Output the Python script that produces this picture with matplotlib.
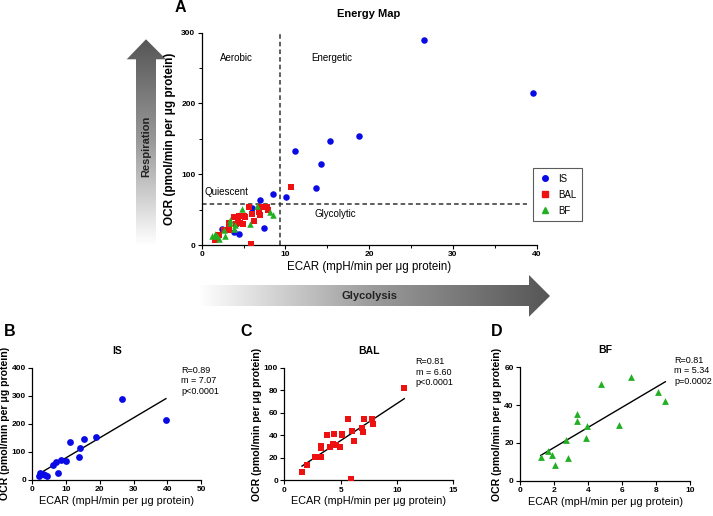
import numpy as np
import matplotlib
matplotlib.use("Agg")
import matplotlib.pyplot as plt
from matplotlib.colors import LinearSegmentedColormap
from matplotlib.patches import Polygon
from matplotlib.lines import Line2D
from matplotlib.ticker import MultipleLocator

plt.rcParams['font.family'] = ['Liberation Sans', 'DejaVu Sans']

# ---- data ----
is_ecar = [2.0, 2.4, 3.2, 3.9, 4.5, 6.0, 7.0, 7.5, 8.5, 10.1, 11.1, 13.7, 14.2, 15.3, 18.8, 26.6, 39.6]
is_ocr = [14, 23, 22, 18, 15, 52, 63, 24, 72, 68, 133, 80, 115, 147, 154, 289, 215]

bal_ecar = [1.57, 2.04, 2.72, 3.0, 3.3, 3.3, 3.3, 3.8, 4.05, 4.3, 4.44, 4.6, 4.9, 5.1, 5.15,
            5.68, 6.0, 6.2, 5.9, 6.9, 7.05, 7.0, 7.8, 7.9, 10.65]
bal_ocr = [7.4, 13.6, 20.7, 20.7, 20.7, 28.5, 30.5, 40, 30, 32, 41, 31, 29.5, 41.4, 40,
           54.4, 44, 34.5, 1.2, 46.7, 54.4, 43, 54.4, 50, 82]

bf_ecar = [1.22, 1.63, 1.88, 2.06, 2.7, 2.8, 3.35, 3.37, 3.92, 3.88, 4.78, 5.82, 6.55, 8.14, 8.55]
bf_ocr = [12.5, 15.7, 13.4, 8.5, 21.3, 12.2, 31.7, 35.1, 28.9, 22.8, 51, 29.3, 54.7, 46.9, 42]

stats_is = "R=0.89\nm = 7.07\np<0.0001"
stats_bal = "R=0.81\nm = 6.60\np<0.0001"
stats_bf = "R=0.81\nm = 5.34\np=0.0002"

ecar_cut = 9.3
ocr_cut = 58

BLUE = '#0a0ae6'
RED = '#ee1111'
GREEN = '#22b022'

W, H = 713, 516
fig = plt.figure(figsize=(W / 100, H / 100), dpi=100)


def px_axes(l, t, r, b, **kw):
    a = fig.add_axes([l / W, 1 - b / H, (r - l) / W, (b - t) / H], **kw)
    a.patch.set_alpha(0)
    return a


def px_text(x, y, s, **kw):
    return fig.text(x / W, 1 - y / H, s, **kw)


def style(ax, fs=6):
    for s in ['top', 'right']:
        ax.spines[s].set_visible(False)
    for s in ['left', 'bottom']:
        ax.spines[s].set_linewidth(0.9)
    ax.tick_params(which='major', direction='out', length=3, width=0.8, labelsize=fs, pad=1.5)
    ax.tick_params(which='minor', direction='out', length=2, width=0.7)
    for lab in ax.get_xticklabels() + ax.get_yticklabels():
        lab.set_fontweight('bold')


ylab = "OCR (pmol/min per μg protein)"
xlab = "ECAR (mpH/min per μg protein)"

# ---- background layer for the gradient arrows ----
bg = fig.add_axes([0, 0, 1, 1], zorder=-1)
bg.axis('off')
grey = LinearSegmentedColormap.from_list('g', ['#555555', '#9a9a9a', '#ffffff'])

grad = np.linspace(0, 1, 256).reshape(-1, 1)
im = bg.imshow(grad, extent=(125, 168, 245, 38), cmap=grey, aspect='auto')
arrow_v = Polygon([(136, 245), (136, 59.3), (126.7, 59.3), (146, 39.3), (166, 59.3),
                   (156, 59.3), (156, 245)], closed=True, transform=bg.transData,
                  facecolor='none', edgecolor='none')
bg.add_patch(arrow_v)
im.set_clip_path(arrow_v)

im2 = bg.imshow(grad.T[:, ::-1], extent=(198, 552, 318, 274), cmap=grey, aspect='auto')
arrow_h = Polygon([(200, 285), (529, 285), (529, 275), (550, 296), (529, 316.7),
                   (529, 306), (200, 306)], closed=True, transform=bg.transData,
                  facecolor='none', edgecolor='none')
bg.add_patch(arrow_h)
im2.set_clip_path(arrow_h)
bg.set_xlim(0, W)
bg.set_ylim(H, 0)

px_text(146.5, 146, "Respiration", rotation=90, ha='center', va='center',
        fontsize=8, fontweight='bold', color='#222222')
px_text(369, 296, "Glycolysis", ha='center', va='center',
        fontsize=8, fontweight='bold', color='#222222')
for letter, x, y in [("A", 180, 7), ("B", 10, 332), ("C", 246.5, 332), ("D", 497, 332)]:
    px_text(x, y, letter, ha='center', va='center', fontsize=11.5, fontweight='bold')

# ---- A: energy map ----
ax = px_axes(201.7, 32.7, 536.5, 245)
ax.axvline(ecar_cut, ymin=0, ymax=1, color='#333333', lw=1.1, ls=(0, (3, 2)))
ax.plot([0, 38.9], [ocr_cut, ocr_cut], color='#333333', lw=1.1, ls=(0, (3, 2)))
ax.scatter(is_ecar, is_ocr, s=22, marker='o', color=BLUE, zorder=3, linewidths=0)
ax.scatter(bal_ecar, bal_ocr, s=22, marker='s', color=RED, zorder=3, linewidths=0)
ax.scatter(bf_ecar, bf_ocr, s=22, marker='^', color=GREEN, zorder=3, linewidths=0)
ax.set_xlim(0, 40)
ax.set_ylim(0, 300)
ax.xaxis.set_major_locator(MultipleLocator(10))
ax.xaxis.set_minor_locator(MultipleLocator(5))
ax.yaxis.set_major_locator(MultipleLocator(100))
ax.yaxis.set_minor_locator(MultipleLocator(50))
style(ax)
ax.set_xlabel(xlab, fontsize=8.3, labelpad=2)
ax.set_ylabel(ylab, fontsize=8.5, fontweight='bold', labelpad=4)
ax.set_title("Energy Map", fontsize=8, fontweight='bold', pad=11)
ax.text(4.2, 264, "Aerobic", ha='center', va='center', fontsize=7)
ax.text(15.5, 264, "Energetic", ha='center', va='center', fontsize=7)
ax.text(3.0, 75, "Quiescent", ha='center', va='center', fontsize=7)
ax.text(16.0, 44, "Glycolytic", ha='center', va='center', fontsize=7)

handles = [Line2D([], [], ls='none', marker='o', color=BLUE, markersize=4),
           Line2D([], [], ls='none', marker='s', color=RED, markersize=4),
           Line2D([], [], ls='none', marker='^', color=GREEN, markersize=4)]
leg = fig.legend(handles, ["IS", "BAL", "BF"], loc='upper left',
                 bbox_to_anchor=(533 / W, 1 - 168 / H), fontsize=7, frameon=True,
                 fancybox=False, borderpad=0.6, labelspacing=0.6, handlelength=1.2,
                 handletextpad=0.8, borderaxespad=0)
leg.get_frame().set_edgecolor('#333333')
leg.get_frame().set_linewidth(0.8)


# ---- B, C, D: correlations ----
def corr_panel(rect, xs, ys, marker, color, title, stats, xlim, ylim, xstep, ystep, stat_xy):
    a = px_axes(*rect)
    a.scatter(xs, ys, s=24, marker=marker, color=color, zorder=3, linewidths=0)
    m, c = np.polyfit(xs, ys, 1)
    xx = np.array([min(xs), max(xs)])
    a.plot(xx, m * xx + c, color='black', lw=1)
    a.set_xlim(*xlim)
    a.set_ylim(*ylim)
    a.xaxis.set_major_locator(MultipleLocator(xstep))
    a.yaxis.set_major_locator(MultipleLocator(ystep))
    style(a)
    a.set_title(title, fontsize=7.5, fontweight='bold', pad=10)
    a.set_xlabel(xlab, fontsize=7.8, labelpad=2)
    a.set_ylabel(ylab, fontsize=7.6, fontweight='bold', labelpad=1.5)
    px_text(stat_xy[0], stat_xy[1], stats, ha='left', va='top', fontsize=6.5, linespacing=1.2)
    return a


corr_panel((32.3, 367.7, 201, 479.7), is_ecar, is_ocr, 'o', BLUE, "IS", stats_is,
           (0, 50), (0, 400), 10, 100, (181, 366))
corr_panel((284.3, 367.7, 453.3, 480.3), bal_ecar, bal_ocr, 's', RED, "BAL", stats_bal,
           (0, 15), (0, 100), 5, 20, (415.5, 357.5))
corr_panel((520, 367.3, 690, 480.7), bf_ecar, bf_ocr, '^', GREEN, "BF", stats_bf,
           (0, 10), (0, 60), 2, 20, (674, 356))

fig.savefig("out.png", dpi=100)
